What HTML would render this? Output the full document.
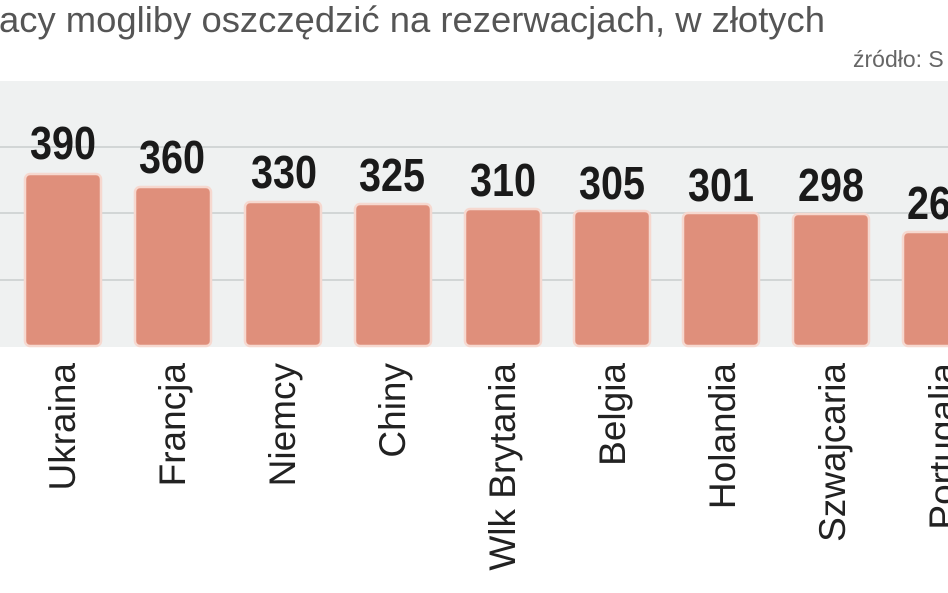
<!DOCTYPE html>
<html><head><meta charset="utf-8"><style>
html,body{margin:0;padding:0;background:#fff;width:948px;height:593px;overflow:hidden}
</style></head><body>
<svg width="948" height="593" xmlns="http://www.w3.org/2000/svg" style="display:block">
<text x="-1" y="32" font-family="Liberation Sans, sans-serif" font-size="36" fill="#555" textLength="826" lengthAdjust="spacingAndGlyphs">acy mogliby oszczędzić na rezerwacjach, w złotych</text>
<text x="853" y="67" font-family="Liberation Sans, sans-serif" font-size="23" fill="#666">źródło: S</text>
<rect x="0" y="81" width="948" height="266" fill="#eff1f1"/>
<g stroke="#d2d6d6" stroke-width="2">
<line x1="0" y1="147" x2="948" y2="147"/>
<line x1="0" y1="213" x2="948" y2="213"/>
<line x1="0" y1="280" x2="948" y2="280"/>
</g>
<g fill="#df8f7b" stroke="#f6d8cf" stroke-width="2.5">
<rect x="25" y="174" width="76" height="172" rx="5"/>
<rect x="135" y="187" width="76" height="159" rx="5"/>
<rect x="245" y="202" width="76" height="144" rx="5"/>
<rect x="355" y="204" width="76" height="142" rx="5"/>
<rect x="465" y="209" width="76" height="137" rx="5"/>
<rect x="574" y="211" width="76" height="135" rx="5"/>
<rect x="683" y="213" width="76" height="133" rx="5"/>
<rect x="793" y="214" width="76" height="132" rx="5"/>
<rect x="903" y="232" width="76" height="114" rx="5"/>
</g>
<g font-family="Liberation Sans Narrow, Liberation Sans, sans-serif" font-weight="bold" font-size="46" fill="#1a1a1a" text-anchor="middle">
<text x="63" y="159" textLength="66" lengthAdjust="spacingAndGlyphs">390</text>
<text x="172" y="173" textLength="66" lengthAdjust="spacingAndGlyphs">360</text>
<text x="284" y="188" textLength="66" lengthAdjust="spacingAndGlyphs">330</text>
<text x="392" y="191" textLength="66" lengthAdjust="spacingAndGlyphs">325</text>
<text x="503" y="196" textLength="66" lengthAdjust="spacingAndGlyphs">310</text>
<text x="612" y="199" textLength="66" lengthAdjust="spacingAndGlyphs">305</text>
<text x="721" y="201" textLength="66" lengthAdjust="spacingAndGlyphs">301</text>
<text x="831" y="201" textLength="66" lengthAdjust="spacingAndGlyphs">298</text>
<text x="940" y="219" textLength="66" lengthAdjust="spacingAndGlyphs">269</text>
</g>
<g font-family="Liberation Sans, sans-serif" font-size="37" fill="#222" text-anchor="end">
<text transform="translate(75,363) rotate(-90)">Ukraina</text>
<text transform="translate(185,363) rotate(-90)">Francja</text>
<text transform="translate(295,363) rotate(-90)">Niemcy</text>
<text transform="translate(405,363) rotate(-90)">Chiny</text>
<text transform="translate(515,363) rotate(-90)">Wlk Brytania</text>
<text transform="translate(625,363) rotate(-90)">Belgia</text>
<text transform="translate(735,363) rotate(-90)">Holandia</text>
<text transform="translate(845,363) rotate(-90)">Szwajcaria</text>
<text transform="translate(955,363) rotate(-90)">Portugalia</text>
</g>
</svg>
</body></html>
